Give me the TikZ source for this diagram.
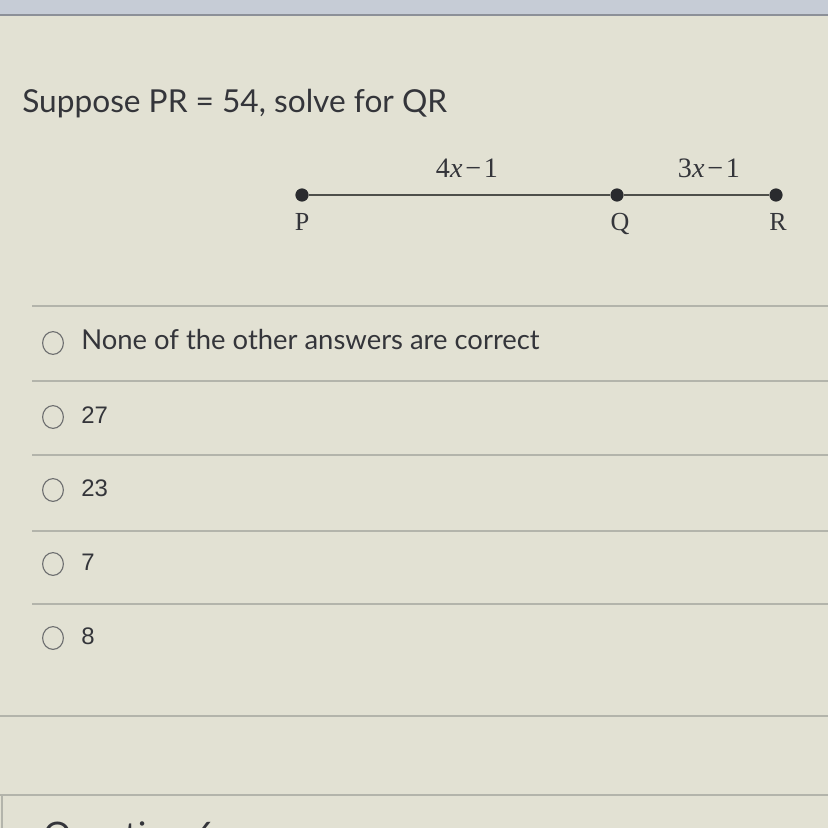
\documentclass[tikz,border=0pt]{standalone}
\usepackage{fontspec}
\setmainfont{Lato}
\newfontfamily\segfont{Liberation Serif}
\newfontfamily\numfont{Liberation Sans}
\usetikzlibrary{shapes.geometric}

\definecolor{screenbg}{HTML}{E2E1D3}
\definecolor{topband}{HTML}{C6CCD6}
\definecolor{topline}{HTML}{8C9098}
\definecolor{rulegray}{HTML}{B3B4AB}
\definecolor{inkgray}{HTML}{34353A}
\definecolor{radiogray}{HTML}{6E6F70}
\definecolor{dotgray}{HTML}{2A2B2E}
\definecolor{seggray}{HTML}{4E4F4A}

\tikzset{
  dot/.style={circle, fill=dotgray, inner sep=0pt, minimum size=9.4pt},
  segment/.style={seggray, line width=2pt},
  seglabel/.style={font=\segfont\fontsize{20}{22}\selectfont, text=inkgray, inner sep=0pt},
  ptlabel/.style={font=\segfont\fontsize{18.5}{20}\selectfont, text=inkgray, inner sep=0pt},
  radio/.style={ellipse, draw=radiogray, line width=0.8pt, inner sep=0pt,
    minimum width=14.8pt, minimum height=16.2pt},
  answer/.style={font=\fontsize{19.5}{22}\selectfont, text=inkgray, inner sep=0pt},
  numanswer/.style={font=\numfont\fontsize{17}{20}\selectfont, text=inkgray, inner sep=0pt},
  rule/.style={rulegray, line width=1pt}
}

\begin{document}
\begin{tikzpicture}[x=0.025cm, y=-0.025cm]
    \clip (0,0) rectangle (828,828);

    % draw screen background
    \fill[screenbg] (0,0) rectangle (828,828);
    \fill[topband] (0,0) rectangle (828,14);
    \draw[topline, line width=1.2pt] (0,15) -- (828,15);

    % draw question
    \node[font=\fontsize{22.5}{26}\selectfont, text=inkgray, inner sep=0pt, anchor=base west]
      (question) at (22,112) {Suppose PR = 54, solve for QR};

    % draw segment
    \node[dot] (P) at (302,195) {};
    \node[dot] (Q) at (617,195) {};
    \node[dot] (R) at (776,195) {};
    \draw[segment] (P) -- (Q) -- (R);

    % draw labels
    \node[ptlabel, anchor=base] (Plabel) at (302,230) {P};
    \node[ptlabel, anchor=base] (Qlabel) at (620,230) {Q};
    \node[ptlabel, anchor=base] (Rlabel) at (778,230) {R};
    \node[seglabel, anchor=base] (PQlabel) at (467,177) {4\textit{x}\kern2pt−\kern2pt1};
    \node[seglabel, anchor=base] (QRlabel) at (709,177) {3\textit{x}\kern2pt−\kern2pt1};

    % draw horizontal rules
    \foreach \y in {306,381,455,531,604}
      \draw[rule] (32,\y) -- (828,\y);
    \draw[rule] (0,716) -- (828,716);
    \draw[rule, line width=1.3pt] (0,795) -- (828,795);
    \draw[rule, line width=1.3pt] (2,795) -- (2,828);

    % draw answers
    \foreach \y/\kind/\txt [count=\i] in {343/answer/None of the other answers are correct,
        417/numanswer/27, 490/numanswer/23, 564/numanswer/7, 638/numanswer/8} {
      \node[radio] (radio\i) at (53,\y) {};
      \node[\kind, anchor=base west] (answer\i) at (81,\y+6) {\txt};
    }

    % draw next question
    \node[font=\fontsize{25}{30}\selectfont, text=inkgray, inner sep=0pt, anchor=base west]
      (nextquestion) at (43,847) {Question 6};
\end{tikzpicture}
\end{document}
